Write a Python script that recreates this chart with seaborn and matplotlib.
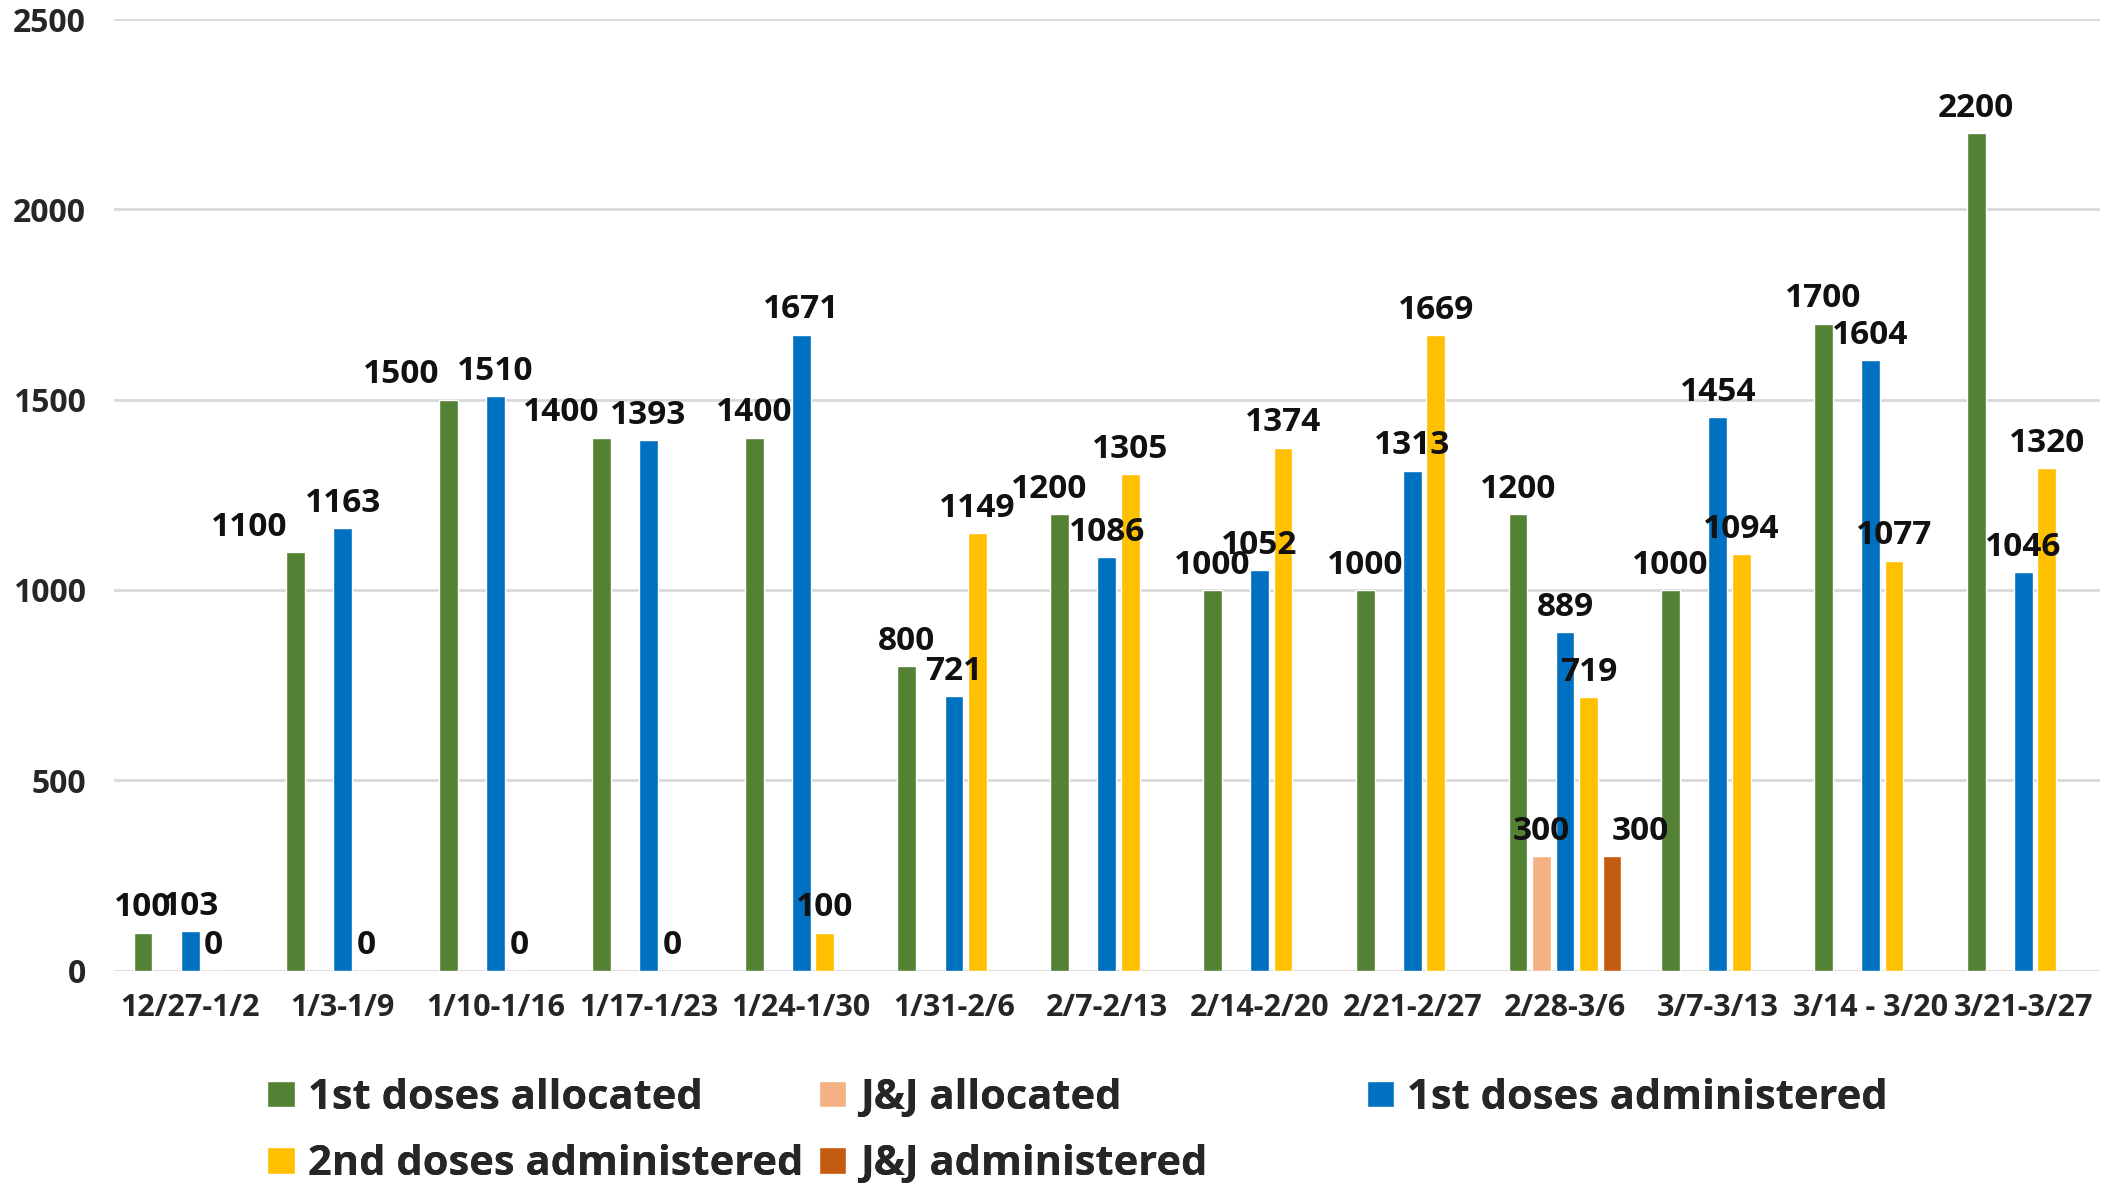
import numpy as np
import pandas as pd
import matplotlib
matplotlib.use("Agg")
import matplotlib.pyplot as plt
from matplotlib.patches import Patch
import seaborn as sns

# weekly vaccine numbers
weeks = ['12/27-1/2', '1/3-1/9', '1/10-1/16', '1/17-1/23', '1/24-1/30', '1/31-2/6',
         '2/7-2/13', '2/14-2/20', '2/21-2/27', '2/28-3/6', '3/7-3/13', '3/14 - 3/20', '3/21-3/27']
first_allocated = [100, 1100, 1500, 1400, 1400, 800, 1200, 1000, 1000, 1200, 1000, 1700, 2200]
jj_allocated = [np.nan] * 9 + [300] + [np.nan] * 3
first_administered = [103, 1163, 1510, 1393, 1671, 721, 1086, 1052, 1313, 889, 1454, 1604, 1046]
second_administered = [0, 0, 0, 0, 100, 1149, 1305, 1374, 1669, 719, 1094, 1077, 1320]
jj_administered = [np.nan] * 9 + [300] + [np.nan] * 3

series = ['1st doses allocated', 'J&J allocated', '1st doses administered',
          '2nd doses administered', 'J&J administered']
colors = ['#548235', '#F4B183', '#0070C0', '#FFC000', '#C55A11']

wide = pd.DataFrame({
    'week': weeks,
    series[0]: first_allocated,
    series[1]: jj_allocated,
    series[2]: first_administered,
    series[3]: second_administered,
    series[4]: jj_administered,
})
df = wide.melt(id_vars='week', var_name='series', value_name='doses').dropna()

sns.set_style('white')
plt.rcParams['font.family'] = ['Open Sans', 'DejaVu Sans']

fig = plt.figure(figsize=(21.06, 11.88), dpi=100)
ax = fig.add_axes([0.054, 0.183, 0.943, 0.801])

sns.barplot(data=df, x='week', y='doses', hue='series', order=weeks, hue_order=series,
            palette=colors, width=0.77, gap=0.2, ax=ax, legend=False, errorbar=None,
            saturation=1)

# excel moved a few labels sideways so they don't collide (pixels)
nudge = {(0, 1): -47, (0, 2): -47, (0, 3): -40, (0, 6): -10, (4, 9): 28}
for si, c in enumerate(ax.containers):
    texts = ax.bar_label(c, fmt='%d', padding=6, fontsize=24, fontweight='bold', color='#111111')
    for bar, t in zip(c, texts):
        wi = int(round(bar.get_x() + bar.get_width() / 2))
        dx = nudge.get((si, wi), 0)
        if dx:
            x0, y0 = t.xyann
            t.xyann = (x0 + dx * 72 / 100, y0)

ax.set_ylim(0, 2500)
ax.set_xlim(-0.5, 12.5)
ax.set_yticks([0, 500, 1000, 1500, 2000, 2500])
ax.yaxis.grid(True, color='#D9D9D9', linewidth=2)
ax.set_axisbelow(True)
sns.despine(ax=ax, left=True, bottom=True)
ax.set_xlabel('')
ax.set_ylabel('')
ax.tick_params(axis='y', length=0, pad=20, labelsize=23)
ax.tick_params(axis='x', length=0, pad=16, labelsize=22)
for t in ax.get_xticklabels() + ax.get_yticklabels():
    t.set_fontweight('bold')

# legend: three fixed columns like the excel one
cols = [([0, 3], 0.127), ([1, 4], 0.389), ([2], 0.649)]
for idx, xpos in cols:
    handles = [Patch(facecolor=colors[i], label=series[i]) for i in idx]
    leg = fig.legend(handles=handles, loc='upper left', bbox_to_anchor=(xpos, 0.093),
                     frameon=False, prop={'size': 30, 'weight': 'bold'},
                     handlelength=0.65, handleheight=0.6, handletextpad=0.32,
                     labelspacing=0.62, borderpad=0, borderaxespad=0)
    fig.add_artist(leg)

fig.savefig('out.png', dpi=100)
